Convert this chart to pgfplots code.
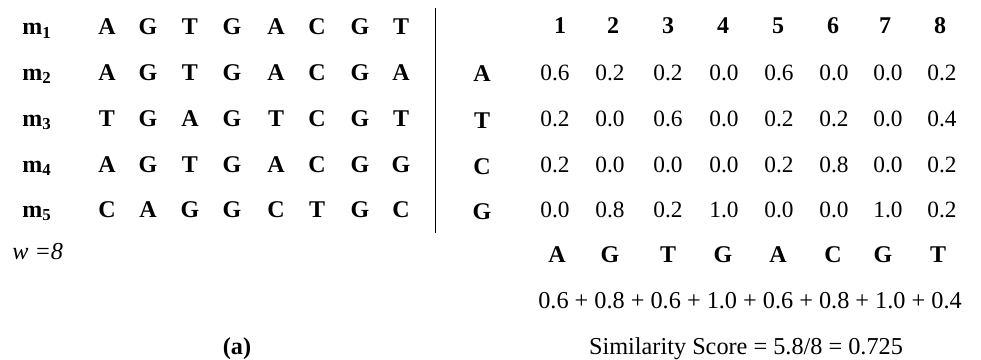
\documentclass[border=0pt]{standalone}
\usepackage{pgfplots}
\pgfplotsset{compat=1.18}
\usepackage{pgfplotstable}
\usepackage{fontspec}
\setmainfont{Liberation Serif}

% probability matrix: one column per nucleotide, one row per position
\pgfplotstableread{
pos x   A   T   C   G
1   555 0.6 0.2 0.2 0.0
2   610 0.2 0.0 0.0 0.8
3   668 0.2 0.6 0.0 0.2
4   724 0.0 0.0 0.0 1.0
5   779 0.6 0.2 0.2 0.0
6   834 0.0 0.2 0.8 0.0
7   888 0.0 0.0 0.0 1.0
8   942 0.2 0.4 0.2 0.2
}\matrixtab

\newcommand{\bfs}{\fontsize{18}{20}\selectfont\bfseries}
\newcommand{\nfs}{\fontsize{17.5}{20}\selectfont}
\newcommand{\lfs}{\fontsize{18.2}{22}\selectfont}

\begin{document}
\begin{tikzpicture}
\begin{axis}[
  scale only axis,
  width=735.75pt, height=269.25pt,
  xmin=0, xmax=981, ymin=0, ymax=359,
  y dir=reverse,
  hide axis,
  clip=false,
  /pgf/number format/assume math mode=true,
  txt/.style={only marks, mark=*, mark size=0pt,
    mark options={draw=none, fill=none},
    point meta=explicit symbolic,
    nodes near coords,
    every node near coord/.append style={anchor=base, inner sep=0pt, text=black, fill=none, draw=none}},
  num/.style={only marks, mark=*, mark size=0pt,
    mark options={draw=none, fill=none},
    point meta=explicit,
    nodes near coords={\pgfmathprintnumber[fixed,fixed zerofill,precision=1,assume math mode=true]{\pgfplotspointmeta}},
    every node near coord/.append style={anchor=base, inner sep=0pt, text=black, font=\nfs, fill=none, draw=none}},
]
% frame of the picture
\addplot[draw=none] coordinates {(0,0) (981,359)};

% separator
\addplot[black, line width=0.6pt] coordinates {(435,8) (435,233)};

% motif labels
\addplot[txt, every node near coord/.append style={font=\bfs}] coordinates {
 (37,35) [m\textsubscript{1}]
 (37,80) [m\textsubscript{2}]
 (37,126) [m\textsubscript{3}]
 (37,172) [m\textsubscript{4}]
 (37,217) [m\textsubscript{5}]
};

% sequences
\addplot[txt, every node near coord/.append style={font=\bfs}] coordinates {
 (107,35) [A] (148,35) [G] (190,35) [T] (232,35) [G] (276,35) [A] (317,35) [C] (360,35) [G] (401,35) [T]
 (107,80) [A] (148,80) [G] (190,80) [T] (232,80) [G] (276,80) [A] (317,80) [C] (360,80) [G] (401,80) [A]
 (107,126) [T] (148,126) [G] (190,126) [A] (232,126) [G] (276,126) [T] (317,126) [C] (360,126) [G] (401,126) [T]
 (107,172) [A] (148,172) [G] (190,172) [T] (232,172) [G] (276,172) [A] (317,172) [C] (360,172) [G] (401,172) [G]
 (107,217) [C] (148,217) [A] (190,217) [G] (232,217) [G] (276,217) [C] (317,217) [T] (360,217) [G] (401,217) [C]
};

% w = 8
\addplot[txt, every node near coord/.append style={font=\lfs\itshape, anchor=base west}] coordinates {(12,259) [w =8]};

% (a)
\addplot[txt, every node near coord/.append style={font=\lfs\bfseries}] coordinates {(237,354) [(a)]};

% header positions
\addplot[txt, every node near coord/.append style={font=\bfs}] coordinates {
 (560,34) [1] (613,34) [2] (668,34) [3] (723,34) [4] (778,34) [5] (833,34) [6] (885,34) [7] (940,34) [8]
};

% row labels
\addplot[txt, every node near coord/.append style={font=\bfs}] coordinates {
 (482,82) [A] (482,128) [T] (482,174) [C] (482,219) [G]
};

% matrix values
\addplot[num] table[x=x, y expr=80, meta=A] {\matrixtab};
\addplot[num] table[x=x, y expr=126, meta=T] {\matrixtab};
\addplot[num] table[x=x, y expr=172, meta=C] {\matrixtab};
\addplot[num] table[x=x, y expr=217, meta=G] {\matrixtab};

% consensus
\addplot[txt, every node near coord/.append style={font=\bfs}] coordinates {
 (557,262) [A] (610,262) [G] (668,262) [T] (723,262) [G] (778,262) [A] (833,262) [C] (883,262) [G] (938,262) [T]
};

% sum line
\addplot[txt, every node near coord/.append style={font=\lfs}] coordinates {
 (750,308) [0.6 + 0.8 + 0.6 + 1.0 + 0.6 + 0.8 + 1.0 + 0.4]
};

% score
\addplot[txt, every node near coord/.append style={font=\lfs}] coordinates {
 (746,354) [Similarity Score = 5.8/8 = 0.725]
};
\end{axis}
\end{tikzpicture}
\end{document}
